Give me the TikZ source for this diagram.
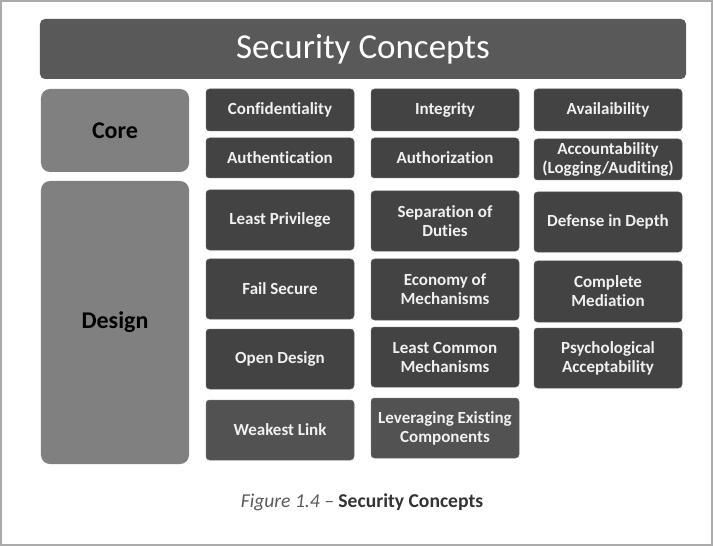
\documentclass[tikz,border=0pt]{standalone}
\usepackage{fontspec}
\setmainfont{Carlito}[Ligatures=NoCommon]
\begin{document}
\definecolor{titlegray}{HTML}{595959}
\definecolor{groupgray}{HTML}{808080}
\definecolor{cellgray}{HTML}{434343}
\definecolor{celllight}{HTML}{525252}
\definecolor{celltext}{HTML}{F0F0F0}
\definecolor{framegray}{HTML}{ABABAB}
\definecolor{capgray}{HTML}{5A5A5A}
\definecolor{capdark}{HTML}{333333}
\begin{tikzpicture}[x=1bp,y=-1bp,
  titlebox/.style={fill=titlegray, rounded corners=5bp, minimum width=646bp, minimum height=60bp,
    text=white, font=\fontsize{35bp}{40bp}\selectfont},
  groupbox/.style={fill=groupgray, rounded corners=9bp, minimum width=148bp,
    text=black, font=\bfseries\fontsize{24bp}{28bp}\selectfont},
  cell/.style={fill=cellgray, draw=cellgray!85!white, line width=0.5bp, rounded corners=3.5bp,
    minimum width=148bp, text=celltext, align=center, inner sep=1bp,
    font=\bfseries\fontsize{17bp}{19bp}\selectfont},
  celllow/.style={cell, fill=celllight, draw=celllight!85!white},
  caption/.style={font=\fontsize{19.6bp}{22bp}\selectfont}]
  % page area and thin outer frame
  \useasboundingbox (0,0) rectangle (713,546);
  \fill[white] (0,0) rectangle (713,546);
  \draw[framegray, line width=1.6bp] (0.8,0.8) rectangle (712.2,545.2);

  % heading band
  \node[titlebox] (title) at (363,49) {Security Concepts};

  % category blocks
  \node[groupbox, minimum height=83bp] (core) at (115,130.5) {Core};
  \node[groupbox, minimum height=283bp] (design) at (115,322.5) {Design};

  % core principles
  \node[cell, minimum height=42bp] (conf) at (280,110) {Confidentiality};
  \node[cell, minimum height=42bp] (integ) at (445,110) {Integrity};
  \node[cell, minimum height=42bp] (avail) at (608,110) {Availaibility};
  \node[cell, minimum height=40bp] (authn) at (280,158) {Authentication};
  \node[cell, minimum height=40bp] (authz) at (445,158) {Authorization};
  \node[cell, minimum height=41bp] (acct) at (608,159.5) {Accountability\\(Logging/Auditing)};

  % design principles
  \node[cell, minimum height=60bp] (lpriv) at (280,220) {Least Privilege};
  \node[cell, minimum height=60bp] (sepd) at (445,221) {Separation of\\Duties};
  \node[cell, minimum height=60bp] (did) at (608,222) {Defense in Depth};
  \node[cell, minimum height=60bp] (fails) at (280,289) {Fail Secure};
  \node[cell, minimum height=61bp] (econ) at (445,289.5) {Economy of\\Mechanisms};
  \node[cell, minimum height=61bp] (cmed) at (608,291.5) {Complete\\Mediation};
  \node[cell, minimum height=60bp] (open) at (280,359) {Open Design};
  \node[cell, minimum height=60bp] (lcm) at (445,357) {Least Common\\Mechanisms};
  \node[cell, minimum height=60bp] (psych) at (608,358) {Psychological\\Acceptability};
  \node[celllow, minimum height=60bp] (weak) at (280,430) {Weakest Link};
  \node[celllow, minimum height=60bp] (lever) at (445,428) {Leveraging Existing\\Components};

  % figure caption
  \node[caption] (cap) at (362,502)
    {\textcolor{capgray}{\itshape Figure 1.4 –} \textcolor{capdark}{\bfseries Security Concepts}};
\end{tikzpicture}
\end{document}
